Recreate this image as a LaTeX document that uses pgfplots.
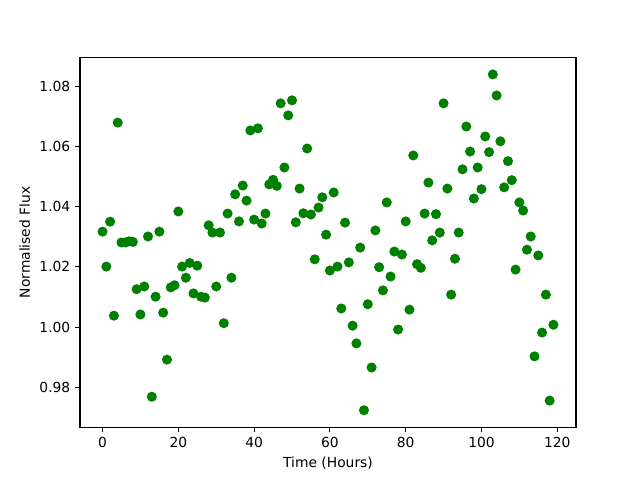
\documentclass[border=0pt]{standalone}
\usepackage{fontspec}
\setmainfont{DejaVu Sans}
\usepackage{pgfplots}
\pgfplotsset{compat=1.18}
\usepackage{pgfplotstable}
\definecolor{mplgreen}{HTML}{008000}
\pgfplotstableread{
t f
0 1.0317
1 1.0201
2 1.0350
3 1.0038
4 1.0679
5 1.0281
6 1.0281
7 1.0285
8 1.0283
9 1.0126
10 1.0042
11 1.0135
12 1.0301
13 0.9769
14 1.0101
15 1.0317
16 1.0048
17 0.9892
18 1.0132
19 1.0139
20 1.0384
21 1.0201
22 1.0164
23 1.0213
24 1.0112
25 1.0204
26 1.0101
27 1.0098
28 1.0338
29 1.0314
30 1.0135
31 1.0314
32 1.0013
33 1.0377
34 1.0164
35 1.0441
36 1.0351
37 1.0470
38 1.0420
39 1.0653
40 1.0357
41 1.0660
42 1.0344
43 1.0377
44 1.0474
45 1.0489
46 1.0469
47 1.0743
48 1.0530
49 1.0703
50 1.0753
51 1.0348
52 1.0460
53 1.0378
54 1.0593
55 1.0374
56 1.0225
57 1.0397
58 1.0431
59 1.0307
60 1.0188
61 1.0447
62 1.0201
63 1.0062
64 1.0347
65 1.0215
66 1.0005
67 0.9946
68 1.0264
69 0.9724
70 1.0076
71 0.9866
72 1.0321
73 1.0199
74 1.0122
75 1.0414
76 1.0168
77 1.0251
78 0.9992
79 1.0241
80 1.0351
81 1.0058
82 1.0570
83 1.0209
84 1.0197
85 1.0377
86 1.0480
87 1.0288
88 1.0375
89 1.0314
90 1.0743
91 1.0460
92 1.0108
93 1.0227
94 1.0314
95 1.0524
96 1.0666
97 1.0583
98 1.0427
99 1.0530
100 1.0458
101 1.0633
102 1.0581
103 1.0839
104 1.0769
105 1.0617
106 1.0464
107 1.0551
108 1.0488
109 1.0191
110 1.0414
111 1.0387
112 1.0257
113 1.0301
114 0.9903
115 1.0238
116 0.9982
117 1.0108
118 0.9756
119 1.0008
}\fluxdata
\begin{document}
\begin{tikzpicture}
\begin{axis}[
  name=ax,
  scale only axis,
  width=4.96in, height=3.696in,
  xmin=-5.95, xmax=124.95,
  ymin=0.96678, ymax=1.08948,
  xtick={0,20,40,60,80,100,120},
  ytick={0.98,1.00,1.02,1.04,1.06,1.08},
  yticklabel style={/pgf/number format/.cd, fixed, fixed zerofill, precision=2},
  /pgf/number format/assume math mode=true,
  tick align=outside,
  major tick length=3.5pt,
  tick style={line width=0.8pt, black},
  axis line style={line width=0.8pt},
  xtick pos=bottom, ytick pos=left,
  ticklabel style={font=\fontsize{10}{12}\selectfont},
  label style={font=\fontsize{10}{12}\selectfont},
  xlabel={Time (Hours)},
  ylabel={Normalised Flux},
  xlabel style={yshift=0pt},
  ylabel style={yshift=0pt},
  clip=false,
]
\addplot[only marks, mark=*, mark size=3pt, mplgreen, mark options={draw=mplgreen, fill=mplgreen, line width=1.2pt}] table[x=t, y=f] {\fluxdata};
\end{axis}
\useasboundingbox ([xshift=-0.8in,yshift=-0.528in]ax.south west) rectangle ([xshift=0.64in,yshift=0.576in]ax.north east);
\end{tikzpicture}
\end{document}
